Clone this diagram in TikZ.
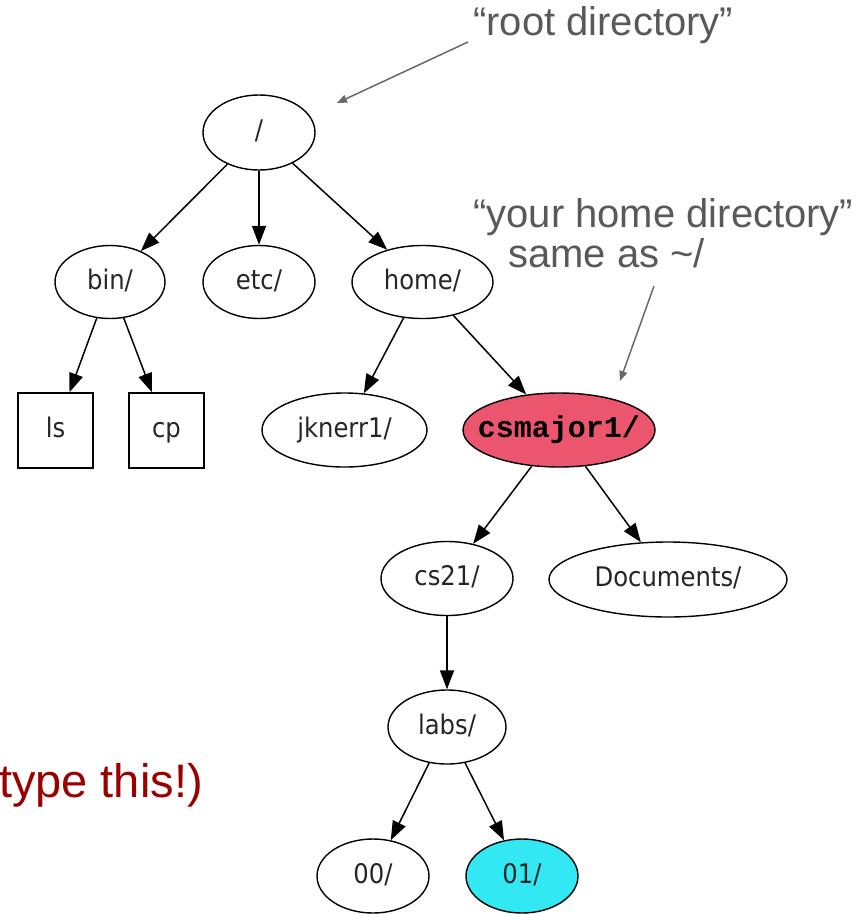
\documentclass[tikz,border=0pt]{standalone}
\usepackage{fontspec}
\setmainfont{Liberation Sans}
\newfontfamily\gvfont[FakeStretch=0.9]{DejaVu Sans}
\newfontfamily\monofont{Liberation Mono}
\usetikzlibrary{shapes.geometric,arrows.meta}
\definecolor{majorred}{RGB}{235,85,110}
\definecolor{labcyan}{RGB}{50,233,243}
\definecolor{notegray}{RGB}{89,89,89}
\definecolor{warnred}{RGB}{153,0,0}
\definecolor{arrowgray}{RGB}{105,105,105}
\begin{document}
\begin{tikzpicture}[x=1pt,y=-1pt,
  dirnode/.style={ellipse, draw, line width=1.4pt, inner sep=0pt,
    text height=19pt, text depth=5pt,
    font=\gvfont\fontsize{27}{30}\selectfont, text=black!85},
  filebox/.style={rectangle, draw, line width=1.4pt, inner sep=0pt,
    minimum width=75pt, minimum height=75pt, text height=19pt, text depth=5pt,
    font=\gvfont\fontsize{27}{30}\selectfont, text=black!85},
  gvedge/.style={-{Triangle[length=19pt,width=14pt]}, line width=1.5pt},
  note/.style={font=\fontsize{40}{44}\selectfont, text=notegray, inner sep=0pt},
  warn/.style={font=\fontsize{47}{52}\selectfont, text=warnred, inner sep=0pt},
  notearrow/.style={-{Triangle[length=10pt,width=8pt]}, line width=1.5pt, draw=arrowgray, fill=arrowgray}
]
\useasboundingbox (0,0) rectangle (864,914);

% graph nodes
\node[dirnode, minimum width=112pt, minimum height=75pt] (root) at (259,132.5) {\makebox[0pt]{/}};
\node[dirnode, minimum width=110pt, minimum height=73pt] (bin) at (110,282) {\makebox[0pt]{bin/}};
\node[dirnode, minimum width=112pt, minimum height=73pt] (etc) at (259,282) {\makebox[0pt]{etc/}};
\node[dirnode, minimum width=141pt, minimum height=73pt] (home) at (422.5,282) {\makebox[0pt]{home/}};
\node[filebox] (ls) at (55.5,430.5) {ls};
\node[filebox] (cp) at (166.5,430.5) {cp};
\node[dirnode, minimum width=165pt, minimum height=74pt] (jknerr) at (344.5,430) {\makebox[0pt]{jknerr1/}};
\node[dirnode, minimum width=192pt, minimum height=74pt, fill=majorred,
      font=\monofont\bfseries\fontsize{30}{32}\selectfont, text=black] (csmajor) at (559,430) {\makebox[0pt]{csmajor1/}};
\node[dirnode, minimum width=132pt, minimum height=74pt] (cs21) at (447,578.5) {\makebox[0pt]{cs21/}};
\node[dirnode, minimum width=238pt, minimum height=75pt] (docs) at (668,579.5) {\makebox[0pt]{Documents/}};
\node[dirnode, minimum width=118pt, minimum height=74pt] (labs) at (447,727) {\makebox[0pt]{labs/}};
\node[dirnode, minimum width=112pt, minimum height=74pt] (d00) at (373,876) {\makebox[0pt]{00/}};
\node[dirnode, minimum width=112pt, minimum height=74pt, fill=labcyan] (d01) at (522,876) {\makebox[0pt]{01/}};

% graph edges
\draw[gvedge] (root) -- (bin);
\draw[gvedge] (root) -- (etc);
\draw[gvedge] (root) -- (home);
\draw[gvedge] (bin) -- (ls);
\draw[gvedge] (bin) -- (cp);
\draw[gvedge] (home) -- (jknerr);
\draw[gvedge] (home) -- (csmajor);
\draw[gvedge] (csmajor) -- (cs21);
\draw[gvedge] (csmajor) -- (docs);
\draw[gvedge] (cs21) -- (labs);
\draw[gvedge] (labs) -- (d00);
\draw[gvedge] (labs) -- (d01);

% annotations
\node[note, anchor=base west] (rootnote) at (473,35) {“root directory”};
\node[note, anchor=base west] (homenote) at (473,227) {“your home directory”};
\node[note, anchor=base west] (samenote) at (508,267) {same as \textasciitilde/};
\node[warn, anchor=base east] (warn) at (203,797) {type this!)};

\coordinate (rootfrom) at (468,42);
\coordinate (roottip) at (337,103);
\draw[notearrow] (rootfrom) -- (roottip);
\coordinate (homefrom) at (654,286);
\coordinate (hometip) at (620,381);
\draw[notearrow] (homefrom) -- (hometip);
\end{tikzpicture}
\end{document}
